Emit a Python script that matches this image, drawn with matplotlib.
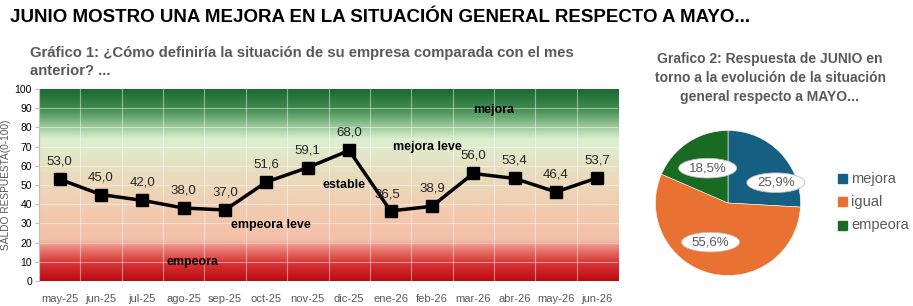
import numpy as np
import matplotlib.pyplot as plt
from matplotlib.colors import LinearSegmentedColormap
from matplotlib.patches import Rectangle, Ellipse

plt.rcParams["font.family"] = ["Liberation Sans", "DejaVu Sans"]

# data
months = ["may-25", "jun-25", "jul-25", "ago-25", "sep-25", "oct-25", "nov-25",
          "dic-25", "ene-26", "feb-26", "mar-26", "abr-26", "may-26", "jun-26"]
saldo = [53.0, 45.0, 42.0, 38.0, 37.0, 51.6, 59.1, 68.0, 36.5, 38.9, 56.0, 53.4, 46.4, 53.7]

pie_labels = ["mejora", "igual", "empeora"]
pie_values = [25.9, 55.6, 18.5]
pie_colors = ["#156082", "#E97132", "#196B24"]

W, H = 913, 306
fig = plt.figure(figsize=(W / 100, H / 100), dpi=100)
fig.patch.set_facecolor("white")
grey = "#595959"


def px(x0, y0, x1, y1):
    # pixel box (top-left origin) -> figure fraction
    return [x0 / W, 1 - y1 / H, (x1 - x0) / W, (y1 - y0) / H]


fig.text(10 / W, 1 - 17 / H, "JUNIO MOSTRO UNA MEJORA EN LA SITUACIÓN GENERAL RESPECTO A MAYO...",
         fontsize=13.5, fontweight="bold", va="center", ha="left", color="black")

fig.text(30 / W, 1 - 62 / H,
         "Gráfico 1: ¿Cómo definiría la situación de su empresa comparada con el mes\nanterior? ...",
         fontsize=10.7, fontweight="bold", color=grey, va="center", ha="left", linespacing=1.4)

# --- line chart ---
ax = fig.add_axes(px(39, 89, 618, 281))
n = len(months)
x = np.arange(n)

stops = [
    (0.00, (190, 10, 15)),
    (0.10, (215, 60, 60)),
    (0.18, (238, 140, 130)),
    (0.21, (244, 190, 168)),
    (0.35, (242, 202, 176)),
    (0.50, (236, 215, 185)),
    (0.62, (230, 226, 196)),
    (0.74, (220, 240, 210)),
    (0.80, (160, 205, 160)),
    (0.90, (65, 140, 80)),
    (1.00, (30, 105, 50)),
]
cmap = LinearSegmentedColormap.from_list(
    "zones", [(p, tuple(c / 255 for c in rgb)) for p, rgb in stops])
grad = np.linspace(0, 1, 300).reshape(-1, 1)
ax.imshow(grad, cmap=cmap, aspect="auto", origin="lower",
          extent=[-0.5, n - 0.5, 0, 100], zorder=0)

ax.set_xlim(-0.5, n - 0.5)
ax.set_ylim(0, 100)
for yv in range(10, 100, 10):
    ax.axhline(yv, color="white", lw=0.8, alpha=0.45, zorder=1)
for xv in np.arange(0.5, n - 0.5, 1):
    ax.axvline(xv, color="white", lw=0.8, alpha=0.45, zorder=1)

ax.plot(x, saldo, color="black", lw=2.5, marker="s", markersize=8.5, zorder=3)
for i, v in enumerate(saldo):
    lbl = f"{v:.1f}".replace(".", ",")
    if i == 8:
        ax.text(i - 0.08, v + 5.5, lbl, ha="center", va="bottom", fontsize=9.5, color="#262626", zorder=4)
    else:
        ax.text(i, v + 6, lbl, ha="center", va="bottom", fontsize=9.5, color="#262626", zorder=4)

ax.text(10.5, 89, "mejora", fontsize=9, fontweight="bold", ha="center", va="center")
ax.text(8.9, 70, "mejora leve", fontsize=9, fontweight="bold", ha="center", va="center")
ax.text(6.87, 50, "estable", fontsize=9, fontweight="bold", ha="center", va="center")
ax.text(5.1, 29, "empeora leve", fontsize=9, fontweight="bold", ha="center", va="center")
ax.text(3.22, 10, "empeora", fontsize=9, fontweight="bold", ha="center", va="center")

ax.set_xticks(x)
ax.set_xticklabels(months, fontsize=8, color=grey)
ax.set_yticks(range(0, 101, 10))
ax.set_yticklabels([str(t) for t in range(0, 101, 10)], fontsize=7.5, color="black")
ax.tick_params(axis="x", length=0, pad=9)
ax.tick_params(axis="y", length=3, color="#bfbfbf", pad=2)
for s in ["top", "right", "bottom"]:
    ax.spines[s].set_visible(False)
ax.spines["left"].set_color("#bfbfbf")
ax.set_ylabel("SALDO RESPUESTA(0-100)", fontsize=7.3, color=grey, labelpad=3)

# --- pie chart ---
fig.text(770 / W, 1 - 78 / H,
         "Grafico 2: Respuesta de JUNIO en\ntorno a la evolución de la situación\ngeneral respecto a MAYO...",
         fontsize=10, fontweight="bold", color=grey, ha="center", va="center", linespacing=1.45)

pax = fig.add_axes(px(654, 129, 802, 277))
wedges, _ = pax.pie(pie_values, colors=pie_colors, startangle=90, counterclock=False,
                    radius=1, wedgeprops=dict(edgecolor="white", linewidth=0.4))
pax.set_xlim(-1.02, 1.02)
pax.set_ylim(-1.02, 1.02)
pax.set_aspect("equal")

label_pos = [(0.66, 0.28), (-0.24, -0.54), (-0.28, 0.48)]
for (lx, ly), v in zip(label_pos, pie_values):
    pax.add_patch(Ellipse((lx, ly), 0.8, 0.27, fc="white", ec="#bfbfbf", lw=0.6, zorder=3,
                          clip_on=False))
    pax.text(lx, ly, f"{v:.1f}%".replace(".", ","), fontsize=9.5, color=grey,
             ha="center", va="center", zorder=4)

lax = fig.add_axes(px(835, 165, 913, 240))
lax.axis("off")
lax.set_xlim(0, 78)
lax.set_ylim(75, 0)
for i, (lab, col) in enumerate(zip(pie_labels, pie_colors)):
    yy = 13 + i * 23.5
    lax.add_patch(Rectangle((3, yy - 4.5), 9, 9, color=col))
    lax.text(16, yy + 0.5, lab, fontsize=10.5, color=grey, va="center", ha="left")

fig.savefig("out.png", dpi=100)
